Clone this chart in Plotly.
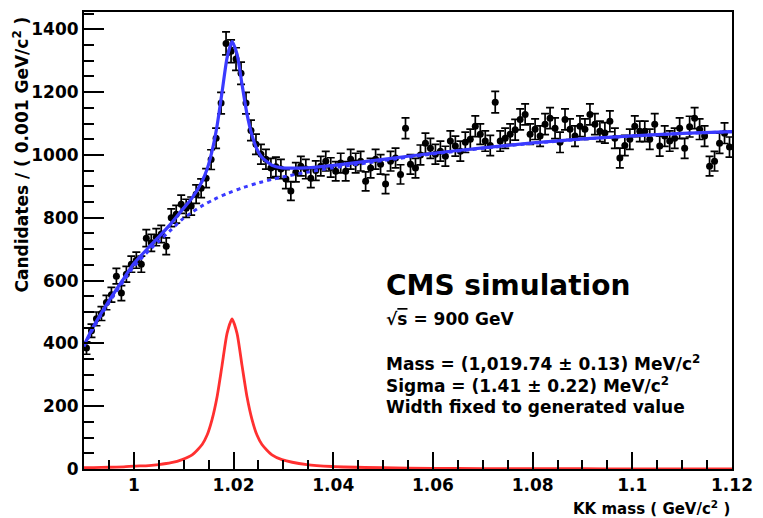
import numpy as np
import plotly.graph_objects as go

# ---- data ----
bin_low = 0.99
bin_width = 0.001
counts = [385, 440, 478, 495, 530, 555, 614, 560, 620, 652,
          665, 652, 735, 720, 738, 748, 709, 800, 811, 843,
          830, 837, 875, 894, 926, 985, 1053, 1165, 1355, 1330,
          1305, 1260, 1165, 1078, 1034, 1002, 986, 958, 962, 955,
          923, 885, 945, 964, 955, 926, 950, 964, 980, 960,
          948, 974, 948, 986, 974, 980, 916, 958, 986, 970,
          907, 980, 990, 938, 1085, 970, 958, 1000, 1037, 1021,
          1002, 1012, 996, 1044, 1028, 1012, 1040, 1050, 1091, 1066,
          1044, 1030, 1168, 1044, 1053, 1066, 1080, 1113, 1129, 1066,
          1082, 1060, 1098, 1117, 1085, 1040, 1113, 1082, 1060, 1091,
          1082, 1129, 1098, 1075, 1070, 1107, 1053, 990, 1030, 1050,
          1091, 1075, 1075, 1050, 1098, 1028, 1060, 1044, 1053, 1085,
          1021, 1090, 1117, 1082, 1060, 964, 980, 1037, 1069, 1025]
bin_centers = bin_low + bin_width * (np.arange(len(counts)) + 0.5)

# fit curves
model_x = [0.99, 0.992, 0.995, 0.998, 1.000, 1.003, 1.005, 1.0075, 1.0097, 1.0117,
           1.0137, 1.0147, 1.0157, 1.0167, 1.0177, 1.0187, 1.0197, 1.0207, 1.0217, 1.0227,
           1.0237, 1.0247, 1.0257, 1.0277, 1.0297, 1.0347, 1.0397, 1.05, 1.06, 1.07,
           1.08, 1.09, 1.10, 1.11, 1.12]
bkg_vals = [390, 452, 530, 600, 645, 695, 725, 762, 795, 818,
            838, 847, 855, 863, 870, 877, 883, 889, 895, 900,
            905, 910, 914, 922, 929, 945, 958, 982, 1003, 1021,
            1037, 1050, 1060, 1068, 1074]
sig_vals = [4, 4.5, 5.5, 7, 9, 11, 14, 20, 30, 45,
            78, 108, 158, 230, 330, 432, 478, 432, 330, 230,
            158, 108, 78, 45, 30, 14, 8, 4, 2.2, 1.5,
            1.1, 0.8, 0.6, 0.5, 0.4]
total_vals = [b + s for b, s in zip(bkg_vals, sig_vals)]

x_tick_vals = [1.0, 1.02, 1.04, 1.06, 1.08, 1.10, 1.12]
x_tick_text = ["1", "1.02", "1.04", "1.06", "1.08", "1.1", "1.12"]
y_tick_vals = [0, 200, 400, 600, 800, 1000, 1200, 1400]

FONT = "DejaVu Sans"
BLUE = "#3a3aff"
RED = "#ff3030"

fig = go.Figure()

fig.add_trace(go.Scatter(
    x=bin_centers, y=counts, mode="markers",
    marker=dict(color="black", size=7, symbol="circle"),
    error_y=dict(type="data", array=np.sqrt(counts), color="black",
                 thickness=1.7, width=4),
    showlegend=False, cliponaxis=False))

fig.add_trace(go.Scatter(
    x=model_x, y=bkg_vals, mode="lines",
    line=dict(color=BLUE, width=3, dash="4px,4px", shape="spline", smoothing=0.6),
    showlegend=False))

fig.add_trace(go.Scatter(
    x=model_x, y=total_vals, mode="lines",
    line=dict(color=BLUE, width=3.2, shape="spline", smoothing=0.6),
    showlegend=False))

fig.add_trace(go.Scatter(
    x=model_x, y=sig_vals, mode="lines",
    line=dict(color=RED, width=2.8, shape="spline", smoothing=0.6),
    showlegend=False))

axis_common = dict(showgrid=False, zeroline=False, showline=True, linecolor="black",
                   linewidth=2, mirror=True, ticks="inside", tickcolor="black",
                   tickwidth=1.5,
                   tickfont=dict(family=FONT, size=17, color="black", weight="bold"))

fig.update_xaxes(range=[0.99, 1.12], tickmode="array", tickvals=x_tick_vals,
                 ticktext=x_tick_text, ticklen=17,
                 minor=dict(ticks="inside", ticklen=9, dtick=0.005, tick0=1.0,
                            tickcolor="black", tickwidth=1.5),
                 **axis_common)
fig.update_yaxes(range=[0, 1455], tickmode="array", tickvals=y_tick_vals, ticklen=20,
                 minor=dict(ticks="inside", ticklen=10, dtick=50, tick0=0,
                            tickcolor="black", tickwidth=1.5),
                 **axis_common)

txt = dict(family=FONT, size=17, color="black", weight="bold")
ann = [
    dict(x=1.12, y=-0.058, xref="x", yref="paper", xanchor="right", yanchor="top",
         text="KK mass ( GeV/c<sup>2</sup> )", showarrow=False,
         font=dict(family=FONT, size=15, color="black", weight="bold")),
    dict(x=-0.097, y=0.995, xref="paper", yref="paper", xanchor="center", yanchor="top",
         text="Candidates / ( 0.001 GeV/c<sup>2</sup> )", textangle=-90,
         showarrow=False, font=txt),
    dict(x=1.0502, y=584, xref="x", yref="y", xanchor="left", yanchor="middle",
         text="CMS simulation", showarrow=False,
         font=dict(family=FONT, size=28, color="black", weight="bold")),
    dict(x=1.0502, y=476, xref="x", yref="y", xanchor="left", yanchor="middle",
         text="√<span style='text-decoration:overline'>s</span> = 900 GeV",
         showarrow=False, font=txt),
    dict(x=1.0502, y=339, xref="x", yref="y", xanchor="left", yanchor="middle",
         text="Mass = (1,019.74 ± 0.13) MeV/c<sup>2</sup>", showarrow=False, font=txt),
    dict(x=1.0502, y=268, xref="x", yref="y", xanchor="left", yanchor="middle",
         text="Sigma = (1.41 ± 0.22) MeV/c<sup>2</sup>", showarrow=False, font=txt),
    dict(x=1.0502, y=198, xref="x", yref="y", xanchor="left", yanchor="middle",
         text="Width fixed to generated value", showarrow=False, font=txt),
]

fig.update_layout(width=763, height=518, margin=dict(l=84, r=21, t=10, b=49),
                  paper_bgcolor="white", plot_bgcolor="white",
                  annotations=ann, font=dict(family=FONT))

fig.write_html("out.html")
